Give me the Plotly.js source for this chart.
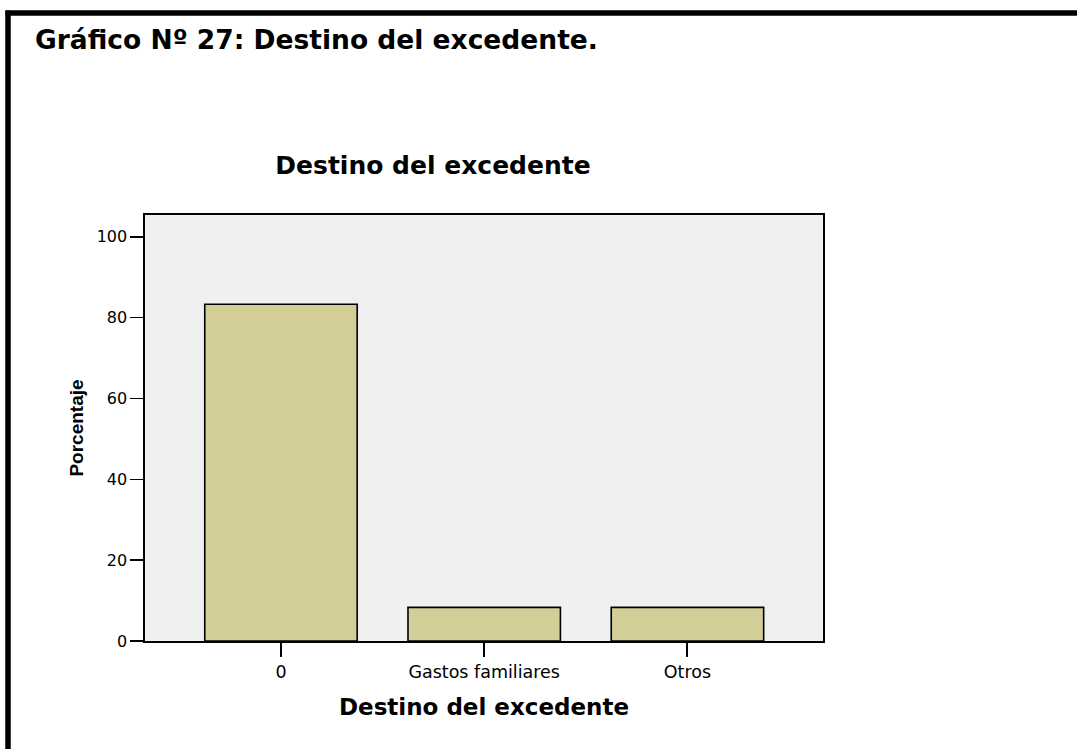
<!DOCTYPE html>
<html>
<head>
<meta charset="utf-8">
<script src="https://cdn.plot.ly/plotly-3.0.1.min.js"></script>
<style>
  html, body { margin: 0; padding: 0; background: #ffffff; }
  #chart { width: 1077px; height: 749px; }
</style>
</head>
<body>
<div id="chart"></div>
<script>
// Data
const categories = ["0", "Gastos familiares", "Otros"];
const percentages = [83.33, 8.33, 8.33];
const yTickValues = [0, 20, 40, 60, 80, 100];
const yTickLabels = ["0", "20", "40", "60", "80", "100"];

const heading = "Gráfico Nº 27: Destino del excedente.";
const chartTitle = "Destino del excedente";
const xTitle = "Destino del excedente";
const yTitle = "Porcentaje";

// Plot-area geometry in pixels (for paper-coordinate helpers)
const W = 1077, H = 749;
const L = 145, R = 823, T = 215, B = 641;
const px = v => (v - L) / (R - L);
const py = v => (B - v) / (B - T);

const trace = {
  type: "bar",
  x: categories,
  y: percentages,
  width: 0.75,
  marker: { color: "#d3ce97", line: { color: "#000000", width: 1.6 } },
  hoverinfo: "x+y"
};

const layout = {
  width: W,
  height: H,
  margin: { l: L, r: W - R, t: T, b: H - B, pad: 0 },
  paper_bgcolor: "#ffffff",
  plot_bgcolor: "#f0f0f0",
  showlegend: false,
  title: {
    text: chartTitle,
    xref: "container", yref: "container",
    x: 433 / W, y: 1 - 165.5 / H,
    xanchor: "center", yanchor: "middle",
    font: { family: "DejaVu Sans", size: 25, weight: "bold", color: "#000000" }
  },
  xaxis: {
    type: "category",
    range: [-0.669, 2.667],
    showgrid: false, zeroline: false,
    showline: true, linecolor: "#000000", linewidth: 1.6, mirror: true,
    ticks: "outside", ticklen: 14, tickwidth: 2, tickcolor: "#000000",
    tickfont: { family: "DejaVu Sans", size: 17.5, color: "#000000" },
    automargin: false,
    title: {
      text: xTitle, standoff: 18,
      font: { family: "DejaVu Sans", size: 23, weight: "bold", color: "#000000" }
    }
  },
  yaxis: {
    range: [0, 105.4],
    tickvals: yTickValues, ticktext: yTickLabels,
    showgrid: false, zeroline: false,
    showline: true, linecolor: "#000000", linewidth: 1.6, mirror: true,
    ticks: "outside", ticklen: 13, tickwidth: 1.6, tickcolor: "#000000",
    tickfont: { family: "DejaVu Sans", size: 16, color: "#000000" },
    automargin: false,
    title: {
      text: yTitle, standoff: 8,
      font: { family: "Liberation Sans", size: 19, weight: "bold", color: "#000000" }
    }
  },
  annotations: [
    {
      text: heading,
      xref: "paper", yref: "paper",
      x: px(33), y: py(39.5),
      xanchor: "left", yanchor: "middle",
      showarrow: false,
      font: { family: "DejaVu Sans", size: 26.5, weight: "bold", color: "#000000" }
    }
  ],
  shapes: [
    { type: "line", xref: "paper", yref: "paper",
      x0: px(8), x1: px(8), y0: py(10.5), y1: py(760),
      line: { color: "#000000", width: 5.5 } },
    { type: "line", xref: "paper", yref: "paper",
      x0: px(5.5), x1: px(1090), y0: py(13), y1: py(13),
      line: { color: "#000000", width: 5.5 } }
  ]
};

Plotly.newPlot("chart", [trace], layout, { displayModeBar: false, staticPlot: true });
</script>
</body>
</html>
